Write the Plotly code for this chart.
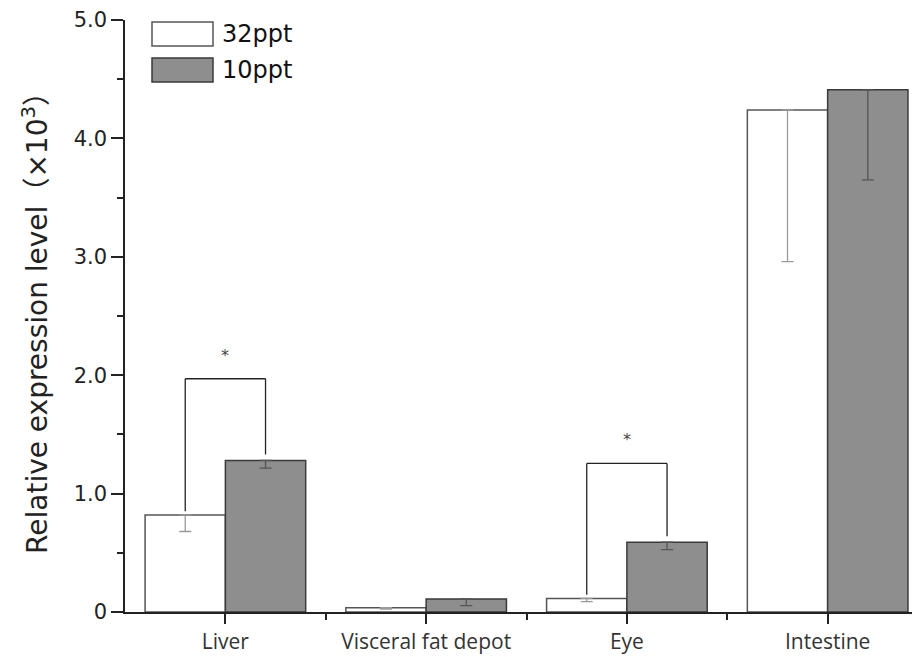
import plotly.graph_objects as go

categories = ["Liver", "Visceral fat depot", "Eye", "Intestine"]
series_names = ["32ppt", "10ppt"]
vals_32 = [0.82, 0.036, 0.115, 4.24]
low_32 = [0.68, 0.025, 0.087, 2.96]
vals_10 = [1.28, 0.11, 0.59, 4.41]
low_10 = [1.216, 0.053, 0.527, 3.65]
y_ticks = [0, 1, 2, 3, 4, 5]
y_ticktext = ["0", "1.0", "2.0", "3.0", "4.0", "5.0"]
sig_idx = [0, 2]
sig_level = [1.97, 1.255]

xs = list(range(len(categories)))
edge = "#3a3a3a"
fig = go.Figure()
fig.add_trace(go.Bar(
    x=xs, y=vals_32, name=series_names[0], offsetgroup="a",
    marker=dict(color="white", line=dict(color="#555555", width=1.5)),
    error_y=dict(type="data", symmetric=False, array=[0]*4,
                 arrayminus=[v - l for v, l in zip(vals_32, low_32)],
                 color="#9a9a9a", thickness=1.3, width=6),
    showlegend=False))
fig.add_trace(go.Bar(
    x=xs, y=vals_10, name=series_names[1], offsetgroup="b",
    marker=dict(color="#8e8e8e", line=dict(color=edge, width=1.5)),
    error_y=dict(type="data", symmetric=False, array=[0]*4,
                 arrayminus=[v - l for v, l in zip(vals_10, low_10)],
                 color="#555555", thickness=1.3, width=6),
    showlegend=False))

# significance brackets
for i, lvl in zip(sig_idx, sig_level):
    xl, xr = i - 0.2, i + 0.2
    fig.add_shape(type="line", x0=xl, x1=xl, y0=vals_32[i] + 0.03, y1=lvl,
                  line=dict(color="#222222", width=1.3))
    fig.add_shape(type="line", x0=xr, x1=xr, y0=vals_10[i] + 0.05, y1=lvl,
                  line=dict(color="#222222", width=1.3))
    fig.add_shape(type="line", x0=xl, x1=xr, y0=lvl, y1=lvl,
                  line=dict(color="#222222", width=1.3))
    fig.add_annotation(x=i, y=lvl, yshift=12, text="*", showarrow=False,
                       yanchor="bottom", font=dict(size=16, color="#444444",
                                                    family="DejaVu Sans"))

# legend (plot area spans screen x 125..920, y 20..612)
PL, PW, PB, PH = 125, 795, 612, 592
leg_fill = ["white", "#8e8e8e"]
leg_line = ["#555555", edge]
for k, nm in enumerate(series_names):
    y0 = 22 + k * 36
    fig.add_shape(type="rect", xref="paper", yref="paper",
                  x0=(152 - PL) / PW, x1=(213 - PL) / PW,
                  y0=(PB - (y0 + 24)) / PH, y1=(PB - y0) / PH,
                  fillcolor=leg_fill[k], line=dict(color=leg_line[k], width=1.5))
    fig.add_annotation(xref="paper", yref="paper", x=(220 - PL) / PW,
                       y=(PB - (y0 + 12)) / PH, text=nm, showarrow=False,
                       xanchor="left", yanchor="middle",
                       font=dict(size=24, color="#111111", family="DejaVu Sans"))

fig.update_layout(
    width=912, height=649,
    margin=dict(l=117, r=0, t=12, b=45),
    paper_bgcolor="white", plot_bgcolor="white",
    barmode="group", bargap=0.2, bargroupgap=0,
    xaxis=dict(range=[-0.5, 3.46], tickvals=xs, ticktext=categories,
               ticks="outside", ticklen=10, tickwidth=1.5, tickcolor="#222222",
               showline=True, linecolor="#222222", linewidth=1.5,
               showgrid=False, zeroline=False, automargin=False,
               tickfont=dict(size=21, color="#333333", family="Open Sans"),
               minor=dict(tickvals=[0.5, 1.5, 2.5], ticks="outside", ticklen=6,
                          tickwidth=1.5, tickcolor="#222222")),
    yaxis=dict(range=[0, 5], tickvals=y_ticks, ticktext=y_ticktext,
               ticks="outside", ticklen=12, tickwidth=1.5, tickcolor="#222222",
               showline=True, linecolor="#222222", linewidth=1.5,
               showgrid=False, zeroline=False, ticklabeloverflow="allow",
               automargin=False,
               tickfont=dict(size=21, color="#222222", family="DejaVu Sans"),
               minor=dict(dtick=0.5, ticks="outside", ticklen=6, tickwidth=1.5,
                          tickcolor="#222222"),
               title=dict(text="Relative expression level（×10<sup>3</sup>）",
                          font=dict(size=28, color="#222222", family="DejaVu Sans, Noto Sans CJK SC"),
                          standoff=18)),
)
fig.write_html("out.html")
